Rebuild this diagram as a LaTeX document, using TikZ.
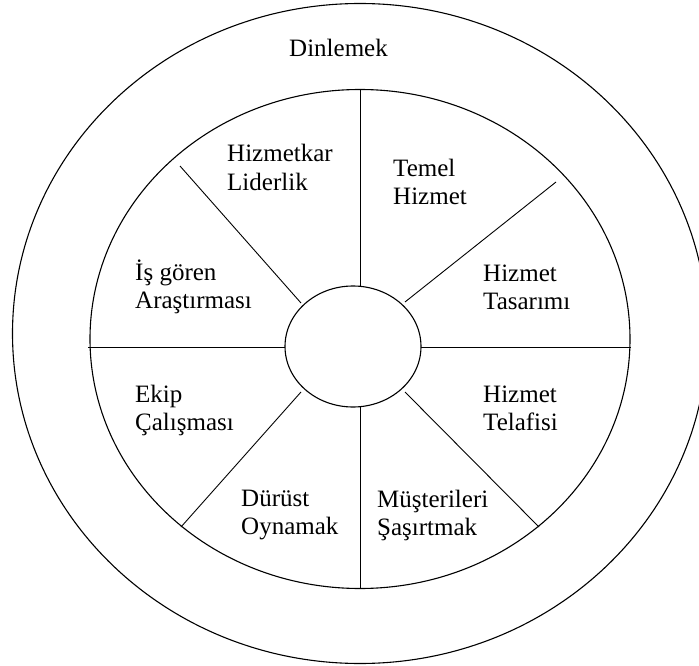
\documentclass[tikz,border=0pt]{standalone}
\usepackage{fontspec}
\setmainfont{Liberation Serif}

\begin{document}
\begin{tikzpicture}[
    x=1pt,
    y=-1pt,
    ring/.style={
        draw=black,
        line width=1.1pt
    },
    spoke/.style={
        draw=black,
        line width=0.9pt
    },
    segtext/.style={
        anchor=base west,
        align=left,
        inner sep=0pt,
        font=\fontsize{25}{28.5}\selectfont
    }
]

\useasboundingbox (0,0) rectangle (699,666);

% Rings: outer, inner and hub
\draw[ring] (360,333.5) ellipse (347.5 and 330);
\draw[ring] (360,339) ellipse (270 and 249.5);
\draw[ring] (353,346.5) ellipse (68 and 60.5);

% Spoke end points
\coordinate (topout) at (360,89.5);
\coordinate (topin) at (360,286);
\coordinate (botin) at (360,407);
\coordinate (botout) at (360,588.5);
\coordinate (leftout) at (88,347);
\coordinate (leftin) at (285,347);
\coordinate (rightin) at (421,347);
\coordinate (rightout) at (631,347);
\coordinate (ulout) at (180,166);
\coordinate (ulin) at (301,303);
\coordinate (urout) at (556,182);
\coordinate (urin) at (405,302);
\coordinate (llout) at (181,527);
\coordinate (llin) at (301,392);
\coordinate (lrout) at (539,527);
\coordinate (lrin) at (405,392);

% Spokes
\draw[spoke] (topout) -- (topin);
\draw[spoke] (botin) -- (botout);
\draw[spoke] (leftout) -- (leftin);
\draw[spoke] (rightin) -- (rightout);
\draw[spoke] (ulout) -- (ulin);
\draw[spoke] (urout) -- (urin);
\draw[spoke] (llout) -- (llin);
\draw[spoke] (lrout) -- (lrin);

% Outer ring label
\node[segtext] (listen) at (289,57) {Dinlemek};

% Segment labels (anchored at the baseline of the second line)
\node[segtext] (servlead) at (227,190.5) {Hizmetkar\\Liderlik};
\node[segtext] (coreserv) at (393,204.5) {Temel\\Hizmet};
\node[segtext] (servdesign) at (483,309.5) {Hizmet\\Tasarımı};
\node[segtext] (staffres) at (135,308.5) {İş gören\\Araştırması};
\node[segtext] (teamwork) at (135,430.5) {Ekip\\Çalışması};
\node[segtext] (recovery) at (483,430.5) {Hizmet\\Telafisi};
\node[segtext] (fairplay) at (241,534.5) {Dürüst\\Oynamak};
\node[segtext] (surprise) at (377,535.5) {Müşterileri\\Şaşırtmak};

\end{tikzpicture}
\end{document}
